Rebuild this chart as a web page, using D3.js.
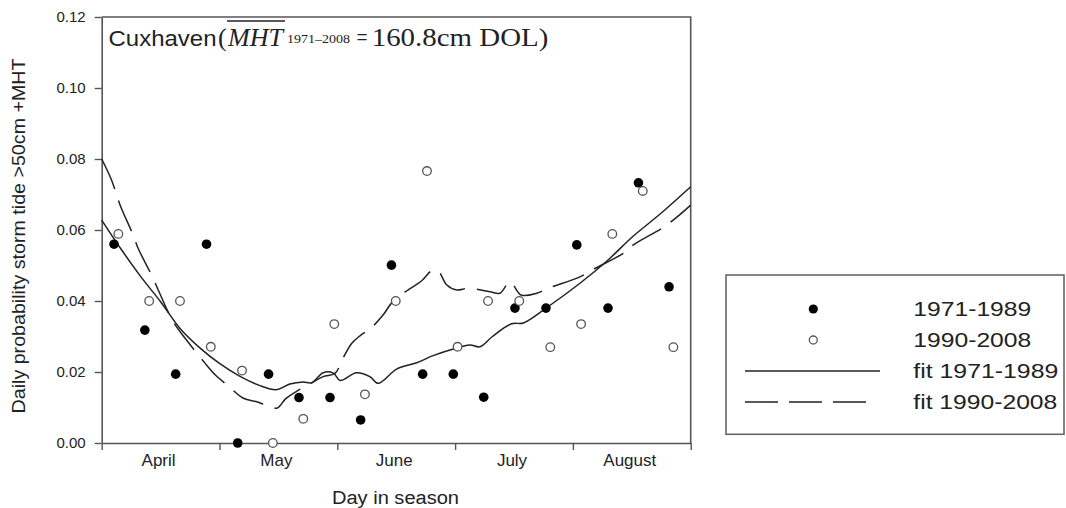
<!DOCTYPE html>
<html>
<head>
<meta charset="utf-8">
<script src="https://cdn.jsdelivr.net/npm/d3@7/dist/d3.min.js"></script>
<style>
  html, body { margin: 0; padding: 0; background: #fff; }
  svg { display: block; }
  text { fill: #222; }
</style>
</head>
<body>
<svg id="chart" width="1066" height="508"></svg>
<script>
// ---------------- data ----------------
const months = ["April", "May", "June", "July", "August"];
const monthStarts = [0, 30, 60, 90, 120, 150];          // day in season (tick positions)
const yTicks = [0, 0.02, 0.04, 0.06, 0.08, 0.10, 0.12];

// centre day of each 19 bins
const binDays = [3.65, 11.5, 19.35, 27.2, 35.15, 43.0, 50.75, 58.65, 66.45, 74.3,
                 82.25, 90.05, 97.8, 105.75, 113.65, 121.5, 129.45, 137.2, 145.0];

const prob1971 = [0.056, 0.0318, 0.0194, 0.056, 0.0, 0.0194, 0.0128, 0.0128, 0.0065, 0.0501,
                  0.0194, 0.0194, 0.0129, 0.038, 0.038, 0.0558, 0.038, 0.0733, 0.044];
const prob1990 = [0.0589, 0.040, 0.040, 0.0271, 0.0204, 0.0, 0.0068, 0.0335, 0.0137, 0.040,
                  0.0766, 0.0271, 0.040, 0.040, 0.027, 0.0335, 0.0589, 0.071, 0.027];

// fitted curves  [day, probability]
const fit1971 = [[0,0.0628],[5,0.0545],[10,0.0468],[15,0.0398],[20,0.0322],[25,0.0268],[30,0.0224],
  [35,0.0189],[40,0.0163],[44.5,0.0150],[47.9,0.0166],[51.3,0.0172],[53.5,0.0170],[56.4,0.0198],
  [59.0,0.0197],[60.7,0.0176],[64.9,0.0198],[68.3,0.0187],[70.4,0.0168],[75.1,0.0208],[80.2,0.0226],
  [84.4,0.0246],[88.7,0.0262],[93.8,0.0276],[96.3,0.0271],[99.5,0.0300],[104.4,0.0336],[107.4,0.0338],
  [113.3,0.0381],[121.8,0.0450],[128.6,0.0512],[135.4,0.0583],[142.2,0.0645],[150,0.0722]];
const fit1990 = [[0,0.080],[2.5,0.0741],[4.7,0.0670],[8.0,0.0586],[9.3,0.0548],[13.1,0.0464],[14.4,0.0431],
  [18.2,0.0342],[21.6,0.0290],[26.3,0.0225],[28.9,0.0192],[32.5,0.0158],[36.1,0.0126],[39.5,0.0116],
  [42,0.0106],[44.6,0.0098],[45.5,0.0106],[46.7,0.0123],[49.7,0.0146],[53,0.0166],[56.4,0.0187],
  [59.4,0.0196],[61.5,0.0240],[63.7,0.0281],[66.0,0.0304],[68.6,0.0324],[71.7,0.0361],[73.8,0.0394],
  [77.2,0.0425],[81.5,0.0457],[84.0,0.0485],[85.6,0.0486],[87.9,0.0445],[90.4,0.0431],[93.4,0.0436],
  [98.9,0.0426],[101.4,0.0422],[104.0,0.0454],[106.8,0.0417],[110.8,0.0422],[113.7,0.0436],
  [121.8,0.0468],[124.8,0.0487],[132.8,0.0534],[135.4,0.0558],[143.9,0.0614],[150,0.0670]];

const legendLabels = ["1971-1989", "1990-2008", "fit 1971-1989", "fit 1990-2008"];

// ---------------- layout ----------------
const sans = "'Liberation Sans', Arial, sans-serif";
const serif = "'Liberation Serif', 'Times New Roman', serif";
const svg = d3.select("#chart");
const L = 101.7, R = 690.7, T = 17, B = 443;
const x = d3.scaleLinear().domain([0, 150]).range([L, R]);
const y = d3.scaleLinear().domain([0, 0.12]).range([B, T]);
const axisColor = "#555";
const lineColor = "#222";

// frame (top & right)
svg.append("path")
  .attr("d", `M${L},${T}H${R}V${B}`)
  .attr("fill", "none").attr("stroke", axisColor).attr("stroke-width", 1.6);

// y axis
const gy = svg.append("g").attr("transform", `translate(${L},0)`)
  .call(d3.axisLeft(y).tickValues(yTicks).tickFormat(d3.format(".2f")).tickSize(7).tickSizeOuter(0));
gy.select(".domain").attr("stroke", axisColor).attr("stroke-width", 1.6);
gy.selectAll(".tick line").attr("stroke", axisColor).attr("stroke-width", 1.4);
gy.selectAll(".tick text").attr("x", -16)
  .style("font-family", sans).style("font-size", "15px").style("fill", "#222");

// x axis
const gx = svg.append("g").attr("transform", `translate(0,${B})`)
  .call(d3.axisBottom(x).tickValues(monthStarts).tickFormat("").tickSize(7).tickSizeOuter(0));
gx.select(".domain").attr("stroke", axisColor).attr("stroke-width", 1.6);
gx.selectAll(".tick line").attr("stroke", axisColor).attr("stroke-width", 1.4);

// month labels
svg.append("g").selectAll("text").data(months).join("text")
  .attr("x", (d, i) => x((monthStarts[i] + monthStarts[i + 1]) / 2) - 2)
  .attr("y", 465.5)
  .attr("text-anchor", "middle")
  .style("font-family", sans).style("font-size", "17px")
  .text(d => d);

// axis titles
svg.append("text")
  .attr("x", 395.5).attr("y", 504)
  .attr("text-anchor", "middle")
  .style("font-family", sans).style("font-size", "18px")
  .attr("textLength", 127).attr("lengthAdjust", "spacingAndGlyphs")
  .text("Day in season");

svg.append("text")
  .attr("transform", "translate(24.5,236) rotate(-90)")
  .attr("text-anchor", "middle")
  .style("font-family", sans).style("font-size", "18px")
  .attr("textLength", 355).attr("lengthAdjust", "spacingAndGlyphs")
  .text("Daily probability storm tide >50cm +MHT");

// ---------------- curves ----------------
const line = d3.line().x(d => x(d[0])).y(d => y(d[1])).curve(d3.curveCatmullRom.alpha(0.5));

svg.append("path").datum(fit1971)
  .attr("d", line).attr("fill", "none")
  .attr("stroke", lineColor).attr("stroke-width", 1.5);

svg.append("path").datum(fit1990)
  .attr("d", line).attr("fill", "none")
  .attr("stroke", lineColor).attr("stroke-width", 1.5)
  .attr("stroke-dasharray", "33,12");

// ---------------- points ----------------
svg.append("g").selectAll("circle").data(prob1971).join("circle")
  .attr("cx", (d, i) => x(binDays[i]) - 2)
  .attr("cy", d => y(d))
  .attr("r", 4.8)
  .attr("fill", "#000");

svg.append("g").selectAll("circle").data(prob1990).join("circle")
  .attr("cx", (d, i) => x(binDays[i]) + 2.3)
  .attr("cy", d => y(d))
  .attr("r", 4.3)
  .attr("fill", "#fff")
  .attr("stroke", "#555")
  .attr("stroke-width", 1.3);

// ---------------- title ----------------
const title = svg.append("g");
title.append("text").attr("x", 108.5).attr("y", 45.7)
  .style("font-family", sans).style("font-size", "22px")
  .attr("textLength", 108).attr("lengthAdjust", "spacingAndGlyphs")
  .text("Cuxhaven");
title.append("text").attr("x", 218).attr("y", 45.7)
  .style("font-family", serif).style("font-size", "26px").text("(");
title.append("text").attr("x", 228).attr("y", 45.7)
  .style("font-family", serif).style("font-size", "26px").style("font-style", "italic")
  .attr("textLength", 55).attr("lengthAdjust", "spacingAndGlyphs").text("MHT");
title.append("line").attr("x1", 227).attr("x2", 285).attr("y1", 21).attr("y2", 21)
  .attr("stroke", "#222").attr("stroke-width", 1.3);
title.append("text").attr("x", 287).attr("y", 43)
  .style("font-family", serif).style("font-size", "12px")
  .attr("textLength", 63).attr("lengthAdjust", "spacingAndGlyphs").text("1971–2008");
title.append("text").attr("x", 356.5).attr("y", 45.7)
  .style("font-family", serif).style("font-size", "26px")
  .attr("textLength", 11).attr("lengthAdjust", "spacingAndGlyphs").text("=");
title.append("text").attr("x", 371.7).attr("y", 45.7)
  .style("font-family", serif).style("font-size", "26px")
  .attr("textLength", 176.6).attr("lengthAdjust", "spacingAndGlyphs").text("160.8cm DOL)");

// ---------------- legend ----------------
const lg = svg.append("g");
lg.append("rect").attr("x", 726).attr("y", 275).attr("width", 338).attr("height", 159.3)
  .attr("fill", "#fff").attr("stroke", "#666").attr("stroke-width", 1.6);

const rowY = [309, 340, 371, 402];
lg.append("circle").attr("cx", 813.3).attr("cy", rowY[0]).attr("r", 4.6).attr("fill", "#000");
lg.append("circle").attr("cx", 813.3).attr("cy", rowY[1]).attr("r", 4.0)
  .attr("fill", "#fff").attr("stroke", "#555").attr("stroke-width", 1.3);
lg.append("line").attr("x1", 745).attr("x2", 880).attr("y1", rowY[2]).attr("y2", rowY[2])
  .attr("stroke", lineColor).attr("stroke-width", 1.5);
lg.append("line").attr("x1", 745).attr("x2", 867).attr("y1", rowY[3]).attr("y2", rowY[3])
  .attr("stroke", lineColor).attr("stroke-width", 1.5).attr("stroke-dasharray", "33,11");

const legendWidths = [118, 118, 145, 144];
lg.selectAll("text.lab").data(legendLabels).join("text")
  .attr("class", "lab")
  .attr("x", 913.3)
  .attr("y", (d, i) => rowY[i] + 7.3)
  .style("font-family", sans).style("font-size", "20px")
  .attr("textLength", (d, i) => legendWidths[i])
  .attr("lengthAdjust", "spacingAndGlyphs")
  .text(d => d);
</script>
</body>
</html>
